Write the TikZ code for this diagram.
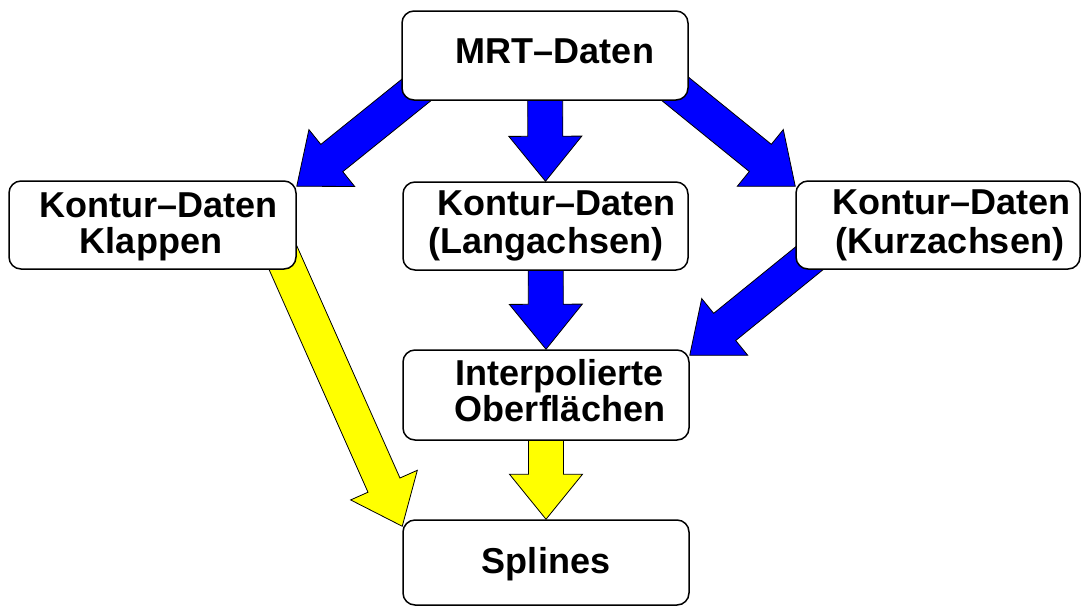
\documentclass[tikz,border=0pt]{standalone}
\usepackage{fontspec}
\setmainfont{Liberation Sans}
\usetikzlibrary{calc,backgrounds}
\definecolor{arrblue}{RGB}{0,0,255}
\definecolor{arryellow}{RGB}{255,255,0}
\tikzset{
  box/.style={draw=black, line width=1.5pt, fill=white, rounded corners=12pt, inner sep=0pt},
  lbl/.style={anchor=base, inner sep=0pt, font=\fontsize{36}{43}\selectfont\bfseries},
  fatarr/.style={draw=black, line width=0.8pt, line join=miter},
}
\newcommand\fatarrow[3]{%
  \draw[fatarr,fill=#3] let \p1=(#1), \p2=(#2),
    \n1={atan2(\y2-\y1,\x2-\x1)}, \n2={veclen(\x2-\x1,\y2-\y1)-45pt} in
    ($(\p1)+(\n1+90:17.5pt)$) -- ($(\p1)+(\n1:\n2)+(\n1+90:17.5pt)$)
    -- ($(\p1)+(\n1:\n2)+(\n1+90:36.5pt)$) -- (\p2)
    -- ($(\p1)+(\n1:\n2)+(\n1-90:36.5pt)$) -- ($(\p1)+(\n1:\n2)+(\n1-90:17.5pt)$)
    -- ($(\p1)+(\n1-90:17.5pt)$) -- cycle;}
\begin{document}
\begin{tikzpicture}[x=1pt,y=-1pt]
\useasboundingbox (0,0) rectangle (1081,606);
% boxes
\node[box, minimum width=286pt, minimum height=89pt] (mrt) at (545,55.5) {};
\node[box, minimum width=287pt, minimum height=88pt] (klap) at (152.5,225) {};
\node[box, minimum width=285pt, minimum height=88pt] (lang) at (545.5,226) {};
\node[box, minimum width=284pt, minimum height=88pt] (kurz) at (938,225) {};
\node[box, minimum width=286pt, minimum height=90pt] (interp) at (546,395) {};
\node[box, minimum width=286pt, minimum height=85pt] (spl) at (546,562.5) {};
% texts
\node[lbl] (tmrt) at (555,63.5) {MRT--Daten};
\node[lbl] (tklap1) at (159,217) {Kontur--Daten};
\node[lbl] (tklap2) at (151,253) {Klappen};
\node[lbl] (tlang1) at (556.5,215) {Kontur--Daten};
\node[lbl] (tlang2) at (546,253) {(Langachsen)};
\node[lbl] (tkurz1) at (951.5,214) {Kontur--Daten};
\node[lbl] (tkurz2) at (950,253) {(Kurzachsen)};
\node[lbl] (tint1) at (559.5,385) {Interpolierte};
\node[lbl] (tint2) at (560,421) {Oberflächen};
\node[lbl] (tspl) at (546,573) {Splines};
% arrow end points
\coordinate (a1s) at ($(mrt.south west)+(34,-26)$);
\coordinate (a1t) at ($(klap.north east)+(0,6)$);
\coordinate (a2s) at ($(mrt.south east)+(-31,-26)$);
\coordinate (a2t) at ($(kurz.north west)+(0,6)$);
\coordinate (a3s) at ($(kurz.south west)+(32,-26)$);
\coordinate (a3t) at ($(interp.north east)+(0,6)$);
\coordinate (a4s) at ($(klap.south east)+(-28,-44)$);
\coordinate (a4t) at ($(spl.north west)+(0,7)$);
\begin{pgfonlayer}{background}
\fatarrow{a1s}{a1t}{arrblue}
\fatarrow{a2s}{a2t}{arrblue}
\fatarrow{a3s}{a3t}{arrblue}
\fatarrow{mrt.center}{lang.north}{arrblue}
\fatarrow{lang.center}{interp.north}{arrblue}
\fatarrow{a4s}{a4t}{arryellow}
\fatarrow{interp.center}{spl.north}{arryellow}
\end{pgfonlayer}
\end{tikzpicture}
\end{document}
